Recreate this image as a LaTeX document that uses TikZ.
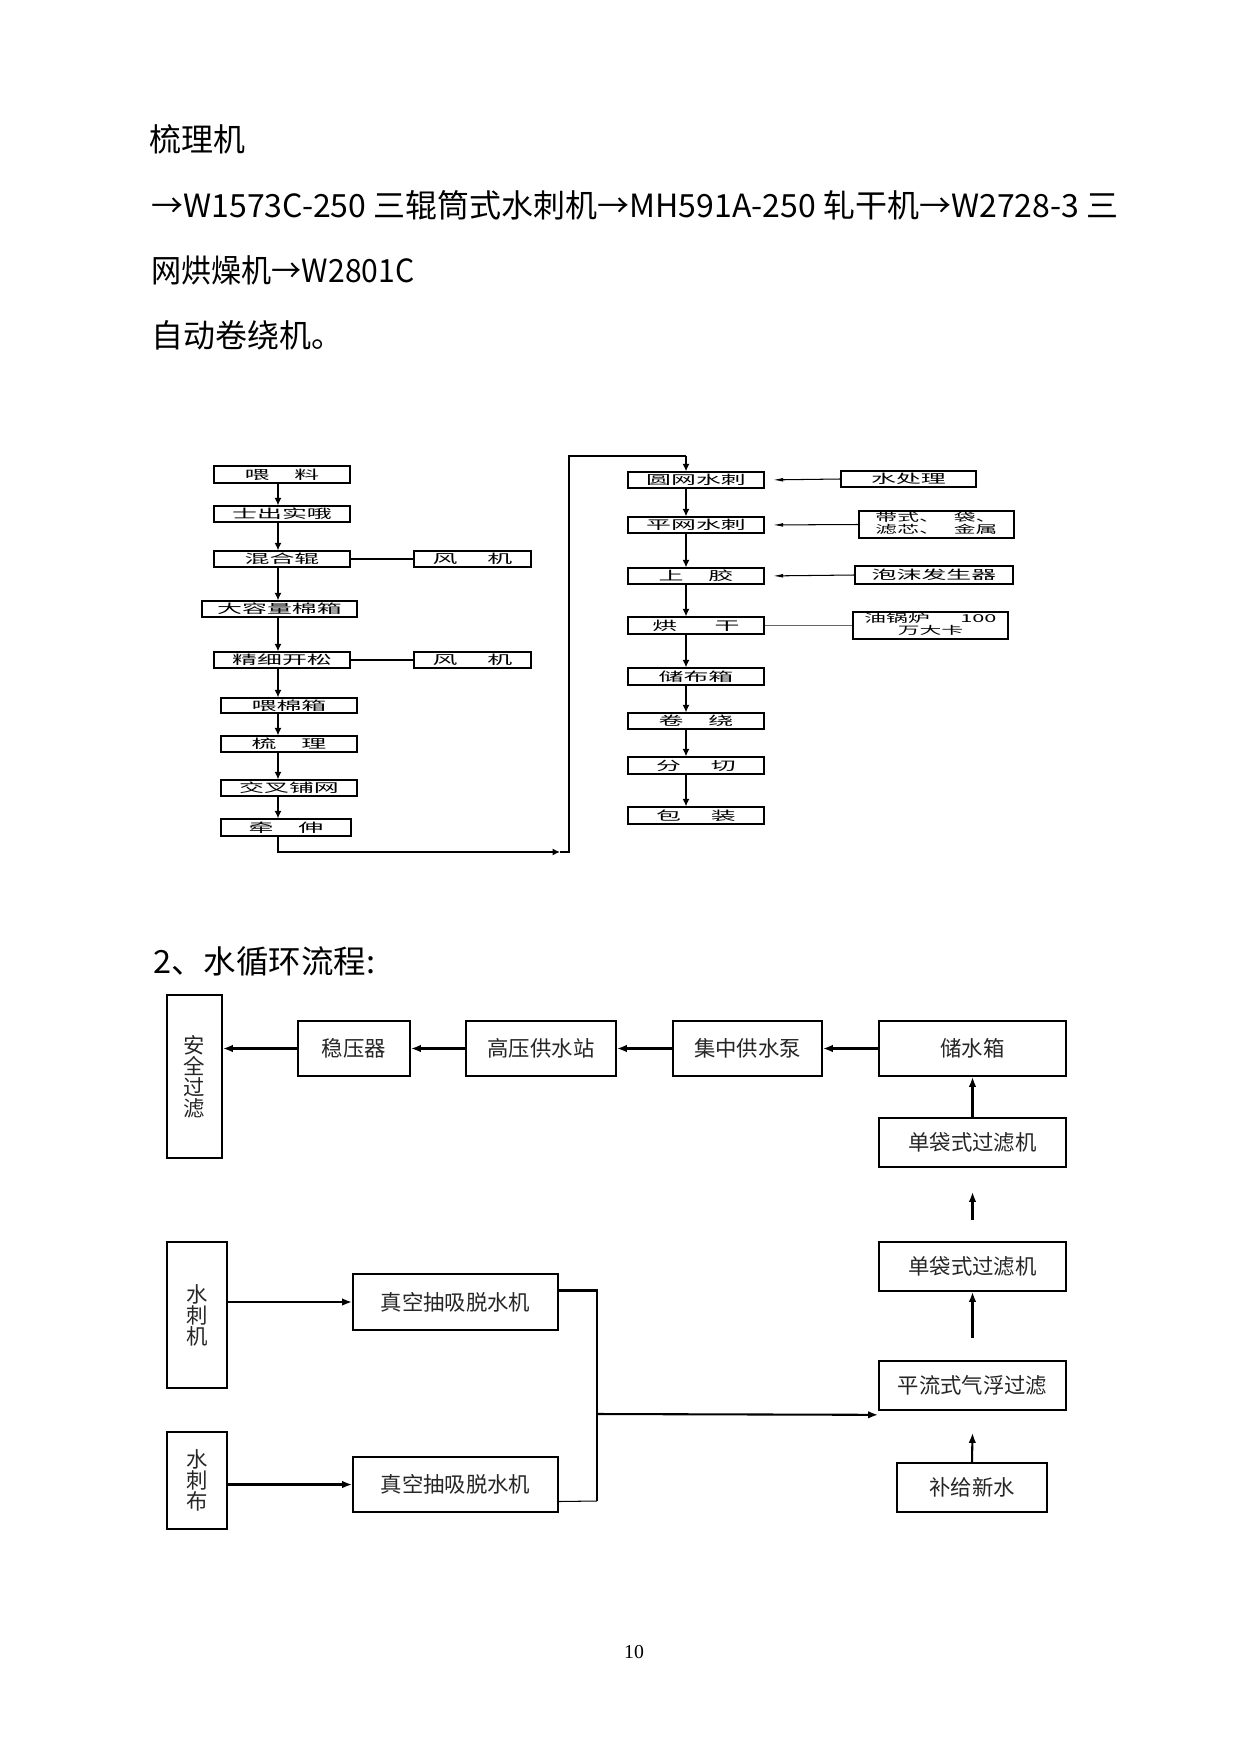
\documentclass[tikz,border=0pt]{standalone}
\usepackage{fontspec}
\usepackage{graphicx}
\setmainfont{Liberation Serif}
\newfontfamily\cjk{Noto Sans CJK SC}
\usetikzlibrary{arrows.meta,calc}
\newlength\px
\setlength\px{0.4818pt}
\newcommand\sq[1]{\scalebox{1}[0.5]{#1}}
\newcommand\toptext{\cjk\fontsize{15.4pt}{16pt}\selectfont}
% box node from corner coordinates (pixels): style, name, x1, y1, x2, y2, text
\newcommand\bnode[7]{%
  \node[#1, minimum width={(#5-#3)*\px}, minimum height={(#6-#4)*\px}] (#2)
    at ({(#3+#5)/2},{(#4+#6)/2}) {#7};}
\begin{document}
\begin{tikzpicture}[x=0.4818pt,y=-0.4818pt,
  ubox/.style={draw, line width=0.6pt, inner sep=0pt, font=\cjk\fontsize{12pt}{12pt}\selectfont},
  sbox/.style={draw, line width=0.6pt, inner sep=0pt, font=\cjk\fontsize{10.5pt}{10.8pt}\selectfont},
  lbox/.style={draw, line width=0.8pt, inner sep=0pt, text=black!85, align=center, font={\cjk\fontsize{10.3pt}{10.1pt}\selectfont\lineskiplimit=-20pt}},
  uarr/.style={line width=0.9pt, -{Latex[length=3.6pt,width=3.4pt]}},
  uline/.style={line width=0.8pt},
  sline/.style={line width=0.5pt},
  sarr/.style={line width=0.5pt, -{Latex[length=5pt,width=1.8pt]}, shorten >=3.9pt},
  larr/.style={line width=1pt, -{Latex[length=4.8pt,width=3.6pt]}},
  lline/.style={line width=1pt},
  top/.style={anchor=west, inner sep=0pt, font=\toptext}
]
\fill[white] (0,0) rectangle (1241,1754);
\useasboundingbox (0,0) rectangle (1241,1754);

% ---------- top text ----------
\node[top] (t1) at (149,139) {梳理机};
\node[top] (t2) at (151,205) {\resizebox{967\px}{\height}{→W1573C-250 三辊筒式水刺机→MH591A-250 轧干机→W2728-3 三}};
\node[top] (t3) at (151,270) {\resizebox{263\px}{\height}{网烘燥机→W2801C}};
\node[top] (t4) at (151,335) {自动卷绕机。};
\node[top] (h2) at (153,961) {\resizebox{222\px}{\height}{2、水循环流程:}};
\node[font=\fontsize{9.5pt}{10pt}\selectfont, inner sep=0pt] (pg) at (634,1652) {10};

% ---------- upper flow: left column ----------
\bnode{ubox}{n1}{214}{466}{350}{483}{\sq{喂\hspace{1em}料}}
\bnode{ubox}{n2}{214}{506}{350}{522}{\sq{士出实哦}}
\bnode{ubox}{n3}{214}{551}{350}{567}{\sq{混合辊}}
\bnode{ubox}{f1}{414}{551}{531}{567}{\sq{风\hspace{1.2em}机}}
\bnode{ubox}{n4}{202}{601}{357}{617}{\sq{大容量棉箱}}
\bnode{ubox}{n5}{214}{652}{350}{668}{\sq{精细开松}}
\bnode{ubox}{f2}{414}{652}{531}{668}{\sq{风\hspace{1.2em}机}}
\bnode{ubox}{n6}{221}{698}{357}{713}{\sq{喂棉箱}}
\bnode{ubox}{n7}{221}{736}{357}{752}{\sq{梳\hspace{1em}理}}
\bnode{ubox}{n8}{221}{780}{357}{796}{\sq{交叉铺网}}
\bnode{ubox}{n9}{221}{819}{351}{836}{\sq{牵\hspace{1em}伸}}

% ---------- upper flow: right column ----------
\bnode{ubox}{r1}{628}{472}{764}{488}{\sq{圆网水刺}}
\bnode{ubox}{r2}{628}{517}{764}{533}{\sq{平网水刺}}
\bnode{ubox}{r3}{628}{568}{764}{584}{\sq{上\hspace{1em}胶}}
\bnode{ubox}{r4}{628}{617}{764}{634}{\sq{烘\hspace{1.5em}干}}
\bnode{ubox}{r5}{628}{668}{764}{685}{\sq{储布箱}}
\bnode{ubox}{r6}{628}{713}{764}{729}{\sq{卷\hspace{1em}绕}}
\bnode{ubox}{r7}{628}{757}{764}{774}{\sq{分\hspace{1.2em}切}}
\bnode{ubox}{r8}{628}{807}{764}{824}{\sq{包\hspace{1.2em}装}}

\bnode{ubox}{s1}{841}{471}{976}{487}{\sq{水处理}}
\bnode{sbox}{s2}{859}{511}{1014}{538}{\sq{\begin{tabular}{@{}l@{}}带式、\hspace{0.6em}袋、\\滤芯、\hspace{0.6em}金属\end{tabular}}}
\bnode{ubox}{s3}{855}{566}{1013}{584}{\sq{泡沫发生器}}
\bnode{sbox}{s4}{853}{612}{1008}{639}{\sq{\begin{tabular}{@{}c@{}}油锅炉\hspace{1.4em}100\\万大卡\end{tabular}}}

% connectors upper
\coordinate (Lx) at (278,0);
\coordinate (Rx) at (686,0);
\foreach \a/\b in {n1/n2,n2/n3,n3/n4,n4/n5,n5/n6,n6/n7,n7/n8,n8/n9}
  \draw[uarr] (\a.south -| Lx) -- (\b.north -| Lx);
\foreach \a/\b in {r1/r2,r2/r3,r3/r4,r4/r5,r5/r6,r6/r7,r7/r8}
  \draw[uarr] (\a.south -| Rx) -- (\b.north -| Rx);
\coordinate (c1) at (278,852);
\coordinate (c2) at (560,852);
\coordinate (c3) at (569,852);
\coordinate (c4) at (569,456);
\coordinate (c5) at (686,456);
\draw[uarr] (n9.south -| Lx) -- (c1) -- (c2);
\draw[uline] (c2) -- (c3) -- (c4) -- (c5);
\draw[uarr] (c5) -- (r1.north -| Rx);
\draw[sline] (n3.east) -- (f1.west);
\draw[sline] (n5.east) -- (f2.west);
\draw[sarr] (s1.west) -- (r1.east);
\draw[sarr] (s2.west) -- (r2.east);
\draw[sarr] (s3.west) -- (r3.east);
\draw[line width=0.4pt, black!60] (r4.east) -- (s4.west);

% ---------- lower flow ----------
\bnode{lbox}{a1}{167}{995}{222}{1158}{安\\全\\过\\滤}
\bnode{lbox}{a2}{298}{1021}{410}{1076}{稳压器}
\bnode{lbox}{a3}{466}{1021}{616}{1076}{高压供水站}
\bnode{lbox}{a4}{673}{1021}{822}{1076}{集中供水泵}
\bnode{lbox}{a5}{879}{1021}{1066}{1076}{储水箱}
\bnode{lbox}{a6}{879}{1118}{1066}{1167}{单袋式过滤机}
\bnode{lbox}{a7}{879}{1242}{1066}{1291}{单袋式过滤机}
\bnode{lbox}{a8}{879}{1361}{1066}{1410}{平流式气浮过滤}
\bnode{lbox}{a9}{897}{1463}{1047}{1512}{补给新水}
\bnode{lbox}{b1}{167}{1242}{227}{1388}{水\\刺\\机}
\bnode{lbox}{b2}{167}{1432}{227}{1529}{水\\刺\\布}
\bnode{lbox}{v1}{353}{1274}{558}{1330}{真空抽吸脱水机}
\bnode{lbox}{v2}{353}{1457}{558}{1512}{真空抽吸脱水机}

\draw[larr] (a2.west) -- (a2.west -| a1.east);
\draw[larr] (a3.west) -- (a2.east);
\draw[larr] (a4.west) -- (a3.east);
\draw[larr] (a5.west) -- (a4.east);
\draw[larr] (a6.north) -- (a5.south);
\coordinate (fa) at ($(a6.south)+(0,52)$);
\coordinate (fb) at ($(a6.south)+(0,24)$);
\draw[larr] (fa) -- (fb);
\coordinate (fc) at ($(a8.north)+(0,-22)$);
\draw[larr] (fc) -- (a7.south);
\coordinate (fd) at ($(a8.south)+(0,22)$);
\draw[larr] (a9.north) -- (fd);
\draw[larr] (v1.west -| b1.east) -- (v1.west);
\draw[larr] (v2.west -| b2.east) -- (v2.west);
\coordinate (p1) at ($(v1.north east)!0.3!(v1.south east)$);
\coordinate (p2) at ($(v2.north east)!0.8!(v2.south east)$);
\coordinate (jb) at (597,1501);
\coordinate (jm) at (597,1414);
\draw[lline] (p1) -| (jb);
\draw[line width=0.5pt] (jb) -- (p2);
\draw[larr] (jm) -- ($(a8.south west)+(0,4)$);
\end{tikzpicture}
\end{document}
